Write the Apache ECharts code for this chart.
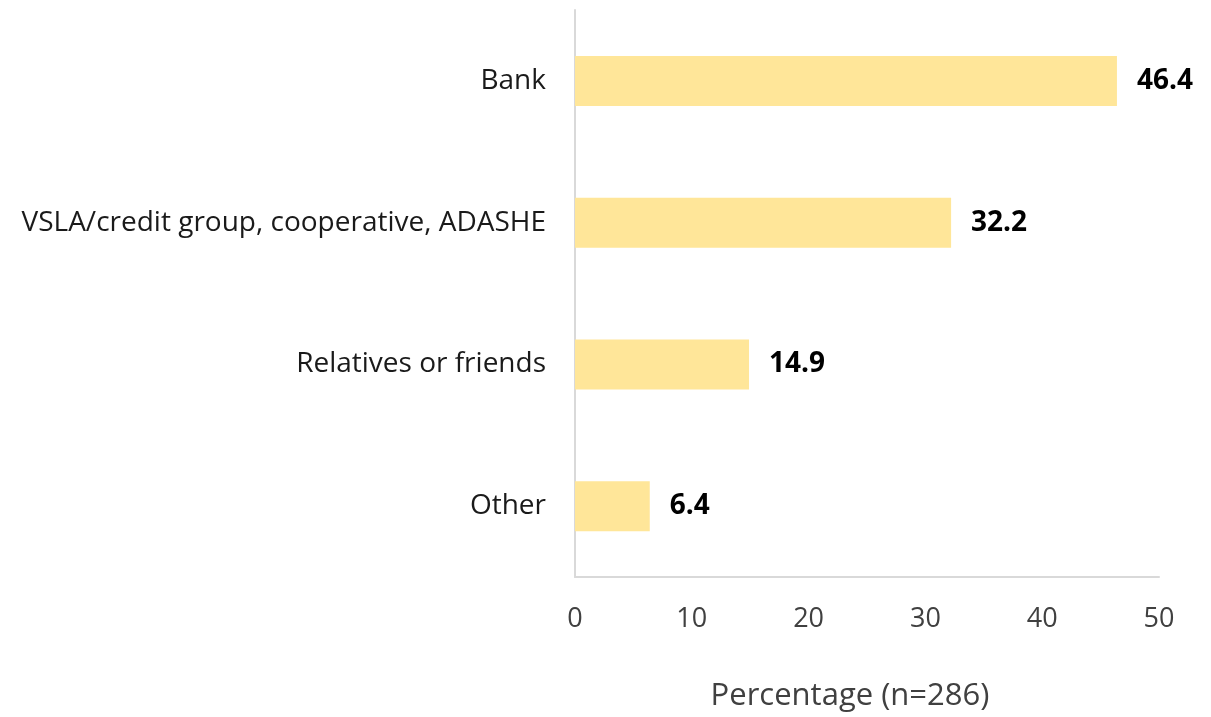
<!DOCTYPE html>
<html>
<head>
<meta charset="utf-8">
<script src="https://cdn.jsdelivr.net/npm/echarts@6/dist/echarts.min.js"></script>
<style>
  html, body { margin: 0; padding: 0; background: #ffffff; }
  #chart { width: 1211px; height: 717px; }
</style>
</head>
<body>
<div id="chart"></div>
<script>
// Source of credit, share of respondents
const categories = ['Bank', 'VSLA/credit group, cooperative, ADASHE', 'Relatives or friends', 'Other'];
const percentages = [46.4, 32.2, 14.9, 6.4];
const xTicks = [0, 10, 20, 30, 40, 50];
const axisTitle = 'Percentage (n=286)';

const FONT = 'Open Sans';
const chart = echarts.init(document.getElementById('chart'), null, { renderer: 'canvas' });

chart.setOption({
  animation: false,
  backgroundColor: '#ffffff',
  grid: { left: 575, right: 52, top: 10, bottom: 140, containLabel: false },
  xAxis: {
    type: 'value',
    min: xTicks[0],
    max: xTicks[xTicks.length - 1],
    interval: 10,
    axisLine: { show: true, lineStyle: { color: '#d9d9d9', width: 2 } },
    axisTick: { show: false },
    splitLine: { show: false },
    axisLabel: { color: '#404040', fontFamily: FONT, fontSize: 27, margin: 29 },
    name: axisTitle,
    nameLocation: 'middle',
    nameGap: 104,
    // title sits a little left of the plot centre
    nameTextStyle: { color: '#404040', fontFamily: FONT, fontSize: 31, padding: [0, 34, 0, 0] }
  },
  yAxis: {
    type: 'category',
    data: categories,
    inverse: true,
    axisLine: { show: true, lineStyle: { color: '#d9d9d9', width: 2 } },
    axisTick: { show: false },
    axisLabel: { color: '#1a1a1a', fontFamily: FONT, fontSize: 28, margin: 29 }
  },
  series: [{
    type: 'bar',
    data: percentages,
    barWidth: 50,
    itemStyle: { color: '#ffe699' },
    label: {
      show: true,
      position: 'right',
      distance: 20,
      color: '#000000',
      fontFamily: FONT,
      fontWeight: 'bold',
      fontSize: 28,
      formatter: p => p.value.toFixed(1)
    }
  }]
});
</script>
</body>
</html>
